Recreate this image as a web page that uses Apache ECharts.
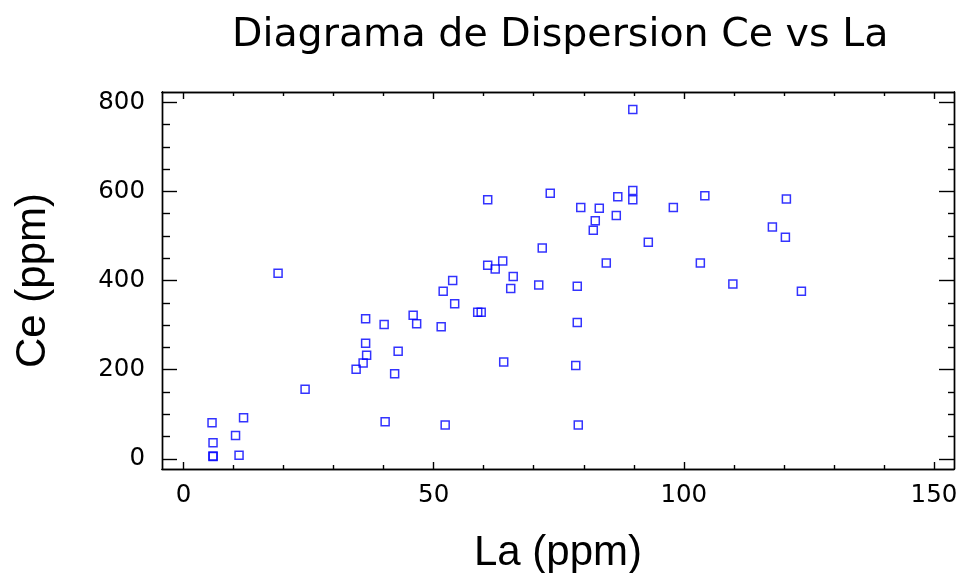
<!DOCTYPE html>
<html>
<head>
<meta charset="utf-8">
<script src="https://cdn.jsdelivr.net/npm/echarts@6/dist/echarts.min.js"></script>
<style>
  html, body { margin: 0; padding: 0; background: #fff; }
  #chart { width: 961px; height: 573px; }
</style>
</head>
<body>
<div id="chart"></div>
<script>
// La (ppm) vs Ce (ppm)
const laValues = [
  89.8, 60.8, 73.3, 89.8, 89.8, 86.8, 104.2, 120.5, 79.4, 83.1,
  97.9, 86.5, 82.3, 81.9, 117.7, 120.3, 92.9, 71.7, 60.8, 62.3,
  63.8, 84.5, 103.3, 65.9, 65.4, 71.0, 78.7, 109.8, 123.5, 58.8,
  59.5, 78.7, 64.0, 78.4, 78.9, 18.9, 53.8, 51.9, 54.2, 36.4,
  40.1, 45.9, 46.6, 51.5, 36.4, 42.9, 36.6, 35.9, 34.5, 42.2,
  24.3, 5.7, 12.0, 10.4, 5.9, 5.9, 5.9, 11.1, 40.3, 52.3
]
const ceValues = [
  784, 581, 596, 602, 581, 588, 590, 583, 564, 562,
  564, 546, 534, 513, 520, 497, 486, 473, 434, 426,
  444, 439, 439, 409, 382, 390, 387, 392, 376, 329,
  329, 306, 217, 209, 76, 416, 400, 376, 348, 314,
  301, 322, 303, 296, 259, 241, 232, 215, 201, 191,
  156, 81, 92, 52, 36, 5, 6, 8, 83, 76
]

const xMajor = [0, 50, 100, 150]
const xMinor = [10, 20, 30, 40, 60, 70, 80, 90, 110, 120, 130, 140]
const yMajor = [0, 200, 400, 600, 800]
const yMinor = [50, 100, 150, 250, 300, 350, 450, 500, 550, 650, 700, 750]

const points = laValues.map((v, i) => [v, ceValues[i]])

const FONT = '"Liberation Sans", Arial, Helvetica, sans-serif'
const WIDE = '"DejaVu Sans", sans-serif'
const X_MIN = -4.3, X_MAX = 154
const Y_MIN = -23, Y_MAX = 823

const lineStyle = { color: '#000', width: 1.4 }

function xAxis(pos, ticks, len, withLabels, withName) {
  return {
    type: 'value',
    position: pos,
    min: X_MIN,
    max: X_MAX,
    splitLine: { show: false },
    axisLine: { show: true, onZero: false, lineStyle },
    axisTick: { show: true, inside: true, length: len, customValues: ticks, lineStyle },
    axisLabel: {
      show: withLabels,
      customValues: ticks,
      margin: 14,
      color: '#000',
      fontSize: 24.5,
      fontFamily: WIDE
    },
    name: withName ? 'La (ppm)' : '',
    nameLocation: 'middle',
    nameGap: 63,
    nameTextStyle: { color: '#000', fontSize: 42, fontFamily: FONT }
  }
}

function yAxis(pos, ticks, len, withLabels, withName) {
  return {
    type: 'value',
    position: pos,
    min: Y_MIN,
    max: Y_MAX,
    splitLine: { show: false },
    axisLine: { show: true, onZero: false, lineStyle },
    axisTick: { show: true, inside: true, length: len, customValues: ticks, lineStyle },
    axisLabel: {
      show: withLabels,
      customValues: ticks,
      margin: 17,
      color: '#000',
      fontSize: 24.5,
      fontFamily: WIDE
    },
    name: withName ? 'Ce (ppm)' : '',
    nameLocation: 'middle',
    nameGap: 108,
    nameTextStyle: { color: '#000', fontSize: 42, fontFamily: FONT }
  }
}

const chart = echarts.init(document.getElementById('chart'))

chart.setOption({
  animation: false,
  backgroundColor: '#fff',
  title: {
    text: 'Diagrama de Dispersion Ce vs La',
    left: 232,
    top: 16,
    padding: 0,
    textStyle: { color: '#000', fontSize: 39.5, fontWeight: 'normal', fontFamily: WIDE }
  },
  grid: { left: 162, right: 7, top: 92, bottom: 104, outerBoundsMode: 'none', containLabel: false },
  xAxis: [
    xAxis('bottom', xMajor, 7, true, true),
    xAxis('bottom', xMinor, 4, false, false),
    xAxis('top', xMajor, 7, false, false),
    xAxis('top', xMinor, 4, false, false)
  ],
  yAxis: [
    yAxis('left', yMajor, 15, true, true),
    yAxis('left', yMinor, 8, false, false),
    yAxis('right', yMajor, 15, false, false),
    yAxis('right', yMinor, 6, false, false)
  ],
  series: [
    {
      type: 'scatter',
      xAxisIndex: 0,
      yAxisIndex: 0,
      symbol: 'rect',
      symbolSize: 8,
      data: points,
      itemStyle: { color: 'rgba(0,0,0,0)', borderColor: '#0000ff', borderWidth: 1.5 }
    }
  ]
})
</script>
</body>
</html>
